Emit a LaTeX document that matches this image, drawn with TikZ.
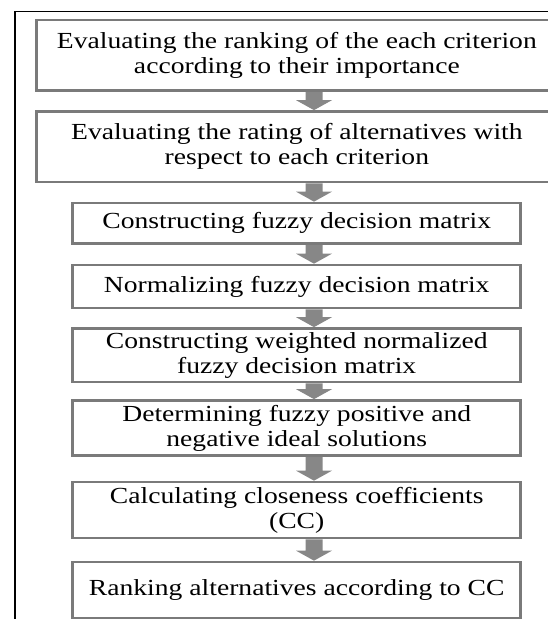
\documentclass[tikz,border=0pt]{standalone}
\usepackage{fontspec}
\setmainfont{Liberation Serif}[FakeStretch=1.2]
\usetikzlibrary{calc}
\pgfdeclarelayer{bg}
\pgfsetlayers{bg,main}
\definecolor{boxgray}{RGB}{122,122,122}
\definecolor{arrowgray}{RGB}{135,135,135}
\newcommand\blkarrow[2]{%
  \path[arrowfill] let \p1=(ax), \p2=(#1.south), \p3=(#2.north) in
  (\x1-8.5pt,\y2) -- (\x1+8.5pt,\y2) -- (\x1+8.5pt,\y3+10pt) -- (\x1+18pt,\y3+10pt)
  -- (\x1,\y3) -- (\x1-18pt,\y3+10pt) -- (\x1-8.5pt,\y3+10pt) -- cycle;}
\begin{document}
\begin{tikzpicture}[x=1pt,y=-1pt,
  stepbox/.style={draw=boxgray, line width=2.7pt, fill=white, inner sep=0pt,
    align=center, font=\fontsize{23}{25}\selectfont, text=black},
  arrowfill/.style={fill=arrowgray}]
\useasboundingbox (0,0) rectangle (548,619);
\clip (0,0) rectangle (548,619);
% outer frame
\draw[line width=1.5pt, black] (15,630) -- (15,11.5) -- (570,11.5);
\coordinate (ax) at (314,0);
\node[stepbox, minimum width=520.3pt, minimum height=70.5pt] (b1) at (296.85,55.25)
  {Evaluating the ranking of the each criterion\\according to their importance};
\node[stepbox, minimum width=520.3pt, minimum height=70.5pt] (b2) at (296.85,146.75)
  {Evaluating the rating of alternatives with\\respect to each criterion};
\node[stepbox, minimum width=448pt, minimum height=40.5pt] (b3) at (296.7,223.25)
  {Constructing fuzzy decision matrix};
\node[stepbox, minimum width=448pt, minimum height=43pt] (b4) at (296.7,286.5)
  {Normalizing fuzzy decision matrix};
\node[stepbox, minimum width=448pt, minimum height=53.5pt] (b5) at (296.7,355.25)
  {Constructing weighted normalized\\fuzzy decision matrix};
\node[stepbox, minimum width=448pt, minimum height=55pt] (b6) at (296.7,428)
  {Determining fuzzy positive and\\negative ideal solutions};
\node[stepbox, minimum width=448pt, minimum height=56pt] (b7) at (296.7,510)
  {Calculating closeness coefficients\\(CC)};
\node[stepbox, minimum width=448pt, minimum height=56pt] (b8) at (296.7,590)
  {Ranking alternatives according to CC};
\begin{pgfonlayer}{bg}
\blkarrow{b1}{b2}
\blkarrow{b2}{b3}
\blkarrow{b3}{b4}
\blkarrow{b4}{b5}
\blkarrow{b5}{b6}
\blkarrow{b6}{b7}
\blkarrow{b7}{b8}
\end{pgfonlayer}
\end{tikzpicture}
\end{document}
